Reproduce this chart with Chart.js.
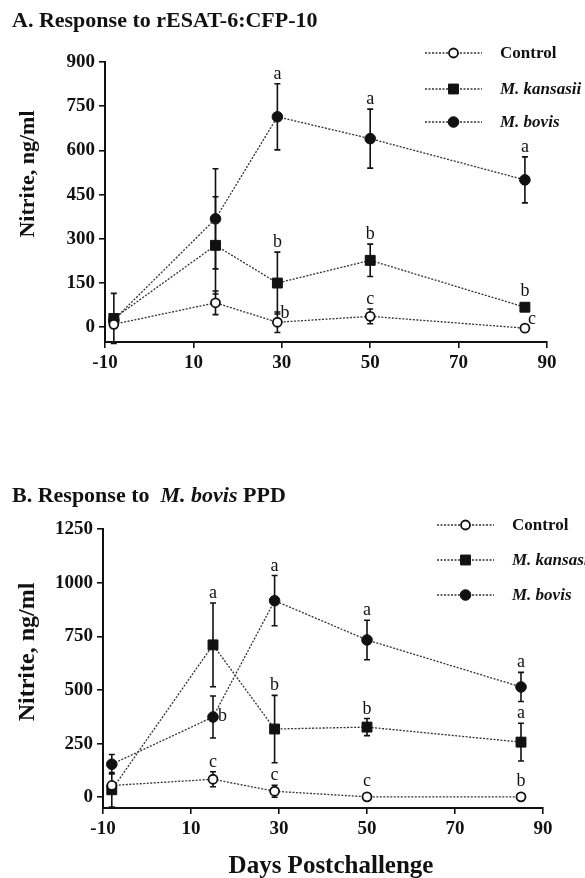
<!DOCTYPE html>
<html>
<head>
<meta charset="utf-8">
<script src="https://cdn.jsdelivr.net/npm/chart.js@4.4.0/dist/chart.umd.min.js"></script>
<style>
  html, body { margin: 0; padding: 0; background: #fff; }
  #wrap { position: relative; width: 585px; height: 878px; }
  canvas { position: absolute; left: 0; }
  #chartA { top: 0; }
  #chartB { top: 440px; }
</style>
</head>
<body>
<div id="wrap">
  <canvas id="chartA" width="585" height="440"></canvas>
  <canvas id="chartB" width="585" height="438"></canvas>
</div>
<script>
// days postchallenge (same for both panels)
const days = [-8, 15, 29, 50, 85];
const xTicks = [-10, 10, 30, 50, 70, 90];

// A. Response to rESAT-6:CFP-10
const yTicksA = [0, 150, 300, 450, 600, 750, 900];
const controlA = [10, 83, 17, 37, -3];
const controlErrA = [12, 40, 35, 25, 4];
const kansasiiA = [30, 278, 150, 227, 68];
const kansasiiErrA = [85, 165, 105, 55, 10];
const bovisA = [25, 368, 714, 640, 500];
const bovisErrA = [20, 170, 112, 100, 78];
const controlLetA = ['', '', 'b', 'c', 'c'];
const kansasiiLetA = ['', '', 'b', 'b', 'b'];
const bovisLetA = ['', '', 'a', 'a', 'a'];

// B. Response to M. bovis PPD
const yTicksB = [0, 250, 500, 750, 1000, 1250];
const controlB = [55, 84, 28, 2, 2];
const controlErrB = [15, 35, 28, 3, 3];
const kansasiiB = [35, 710, 318, 327, 257];
const kansasiiErrB = [80, 195, 157, 40, 88];
const bovisB = [154, 374, 916, 733, 514];
const bovisErrB = [45, 98, 117, 92, 68];
const controlLetB = ['', 'c', 'c', 'c', 'b'];
const kansasiiLetB = ['', 'a', 'b', 'b', 'a'];
const bovisLetB = ['', 'b', 'a', 'a', 'a'];

const SERIF = '"Liberation Serif", "Times New Roman", serif';
const INK = '#111';

function pts(vals) {
    return days.map((d, i) => ({ x: d, y: vals[i] }));
}

function series(label, vals, errs, lets, style, beside) {
    const open = style === 'open';
    return {
        label: label,
        data: pts(vals),
        errors: errs,
        letters: lets,
        beside: beside || {},
        borderColor: '#333',
        borderWidth: 1.3,
        borderDash: [2, 1.5],
        pointStyle: style === 'square' ? 'rect' : 'circle',
        pointRadius: style === 'square' ? 7 : (open ? 4.5 : 5.3),
        pointBorderWidth: open ? 1.8 : 1,
        pointBackgroundColor: open ? '#fff' : INK,
        pointBorderColor: INK,
        fill: false,
        tension: 0
    };
}

// error bars + significance letters
const errorBars = {
    id: 'errorBars',
    beforeDatasetsDraw(chart) {
        const { ctx, scales: { x, y } } = chart;
        ctx.save();
        ctx.strokeStyle = INK;
        ctx.lineWidth = 1.6;
        chart.data.datasets.forEach(ds => {
            ds.data.forEach((p, i) => {
                const e = ds.errors[i];
                if (!e) return;
                const px = x.getPixelForValue(p.x);
                const top = y.getPixelForValue(p.y + e);
                const bot = y.getPixelForValue(p.y - e);
                ctx.beginPath();
                ctx.moveTo(px, top); ctx.lineTo(px, bot);
                ctx.moveTo(px - 3, top); ctx.lineTo(px + 3, top);
                ctx.moveTo(px - 3, bot); ctx.lineTo(px + 3, bot);
                ctx.stroke();
            });
        });
        ctx.restore();
    },
    afterDatasetsDraw(chart) {
        const { ctx, scales: { x, y } } = chart;
        ctx.save();
        ctx.fillStyle = INK;
        ctx.font = '18px ' + SERIF;
        chart.data.datasets.forEach(ds => {
            ds.data.forEach((p, i) => {
                const t = ds.letters[i];
                if (!t) return;
                const px = x.getPixelForValue(p.x);
                const py = y.getPixelForValue(p.y);
                const side = ds.beside[i];
                if (side === 'ur') {
                    ctx.textAlign = 'left';
                    ctx.textBaseline = 'alphabetic';
                    ctx.fillText(t, px + 3, py - 4);
                } else if (side === 'r') {
                    ctx.textAlign = 'left';
                    ctx.textBaseline = 'middle';
                    ctx.fillText(t, px + 5, py - 1);
                } else {
                    const cap = y.getPixelForValue(p.y + (ds.errors[i] || 0));
                    ctx.textAlign = 'center';
                    ctx.textBaseline = 'alphabetic';
                    ctx.fillText(t, px, Math.min(cap, py - 6) - 5);
                }
            });
        });
        ctx.restore();
    }
};

// panel title, axis titles and the legend
const decor = {
    id: 'decor',
    afterDraw(chart, args, opts) {
        const ctx = chart.ctx;
        ctx.save();
        ctx.fillStyle = INK;
        ctx.textBaseline = 'alphabetic';
        ctx.textAlign = 'left';

        // title in pieces (some italic)
        let tx = 12;
        opts.title.forEach(seg => {
            ctx.font = (seg.italic ? 'italic ' : '') + 'bold 22px ' + SERIF;
            ctx.fillText(seg.text, tx, opts.titleY);
            tx += ctx.measureText(seg.text).width;
        });

        // y axis title
        ctx.save();
        ctx.translate(34, opts.yTitleY);
        ctx.rotate(-Math.PI / 2);
        ctx.textAlign = 'center';
        ctx.font = 'bold ' + opts.yTitleSize + 'px ' + SERIF;
        ctx.fillText('Nitrite, ng/ml', 0, 0);
        ctx.restore();

        if (opts.xTitle) {
            ctx.textAlign = 'center';
            ctx.font = 'bold 25px ' + SERIF;
            ctx.fillText(opts.xTitle, 331, opts.xTitleY);
        }

        // legend
        const lg = opts.legend;
        chart.data.datasets.forEach((ds, i) => {
            const ly = lg.y[i];
            ctx.save();
            ctx.strokeStyle = '#333';
            ctx.lineWidth = 1.3;
            ctx.setLineDash([2, 1.5]);
            ctx.beginPath();
            ctx.moveTo(lg.x, ly);
            ctx.lineTo(lg.x + 57, ly);
            ctx.stroke();
            ctx.setLineDash([]);
            ctx.fillStyle = ds.pointBackgroundColor;
            ctx.strokeStyle = ds.pointBorderColor;
            ctx.lineWidth = ds.pointBorderWidth;
            Chart.helpers.drawPoint(ctx, {
                pointStyle: ds.pointStyle,
                radius: ds.pointRadius,
                rotation: 0,
                borderWidth: ds.pointBorderWidth
            }, lg.x + 28.5, ly);
            ctx.restore();
            ctx.textAlign = 'left';
            ctx.textBaseline = 'middle';
            ctx.font = (ds.label.startsWith('M.') ? 'italic ' : '') + 'bold 17px ' + SERIF;
            ctx.fillText(ds.label, lg.x + 75, ly + 1);
        });
        ctx.restore();
    }
};

function axis(min, max, ticks, fitFn) {
    return {
        type: 'linear',
        min: min,
        max: max,
        afterBuildTicks: s => { s.ticks = ticks.map(v => ({ value: v })); },
        afterFit: fitFn,
        grid: { drawOnChartArea: false, drawTicks: true, tickLength: 6, color: INK, lineWidth: 1.6 },
        border: { display: true, color: INK, width: 2 },
        ticks: {
            color: INK,
            font: { family: SERIF, size: 19, weight: 'bold' },
            padding: 4,
            maxRotation: 0,
            autoSkip: false,
            callback: v => String(v)
        }
    };
}

function renderPanel(id, datasets, yMax, yTicks, box, decorOpts) {
    return new Chart(document.getElementById(id), {
        type: 'line',
        data: { datasets: datasets },
        options: {
            responsive: false,
            animation: false,
            devicePixelRatio: 1,
            layout: { padding: { left: 0, right: box.right, top: box.top, bottom: 0 } },
            plugins: {
                legend: { display: false },
                tooltip: { enabled: false },
                decor: decorOpts
            },
            scales: {
                x: axis(-10, 90, xTicks, s => { s.height = box.xH; }),
                y: axis(-50, yMax, yTicks, s => { s.width = box.yW; })
            }
        },
        plugins: [errorBars, decor]
    });
}

renderPanel('chartA', [
    series('Control', controlA, controlErrA, controlLetA, 'open', { 2: 'ur', 4: 'ur' }),
    series('M. kansasii', kansasiiA, kansasiiErrA, kansasiiLetA, 'square'),
    series('M. bovis', bovisA, bovisErrA, bovisLetA, 'filled')
], 900, yTicksA, { right: 38, top: 62, xH: 98, yW: 105 }, {
    title: [{ text: 'A. Response to rESAT-6:CFP-10' }],
    titleY: 27,
    yTitleY: 174,
    yTitleSize: 22,
    legend: { x: 425, y: [53, 89, 122] }
});

renderPanel('chartB', [
    series('Control', controlB, controlErrB, controlLetB, 'open'),
    series('M. kansasii', kansasiiB, kansasiiErrB, kansasiiLetB, 'square'),
    series('M. bovis', bovisB, bovisErrB, bovisLetB, 'filled', { 1: 'r' })
], 1250, yTicksB, { right: 42, top: 89, xH: 70, yW: 103 }, {
    title: [{ text: 'B. Response to  ' }, { text: 'M. bovis', italic: true }, { text: ' PPD' }],
    titleY: 62,
    yTitleY: 212,
    yTitleSize: 24,
    xTitle: 'Days Postchallenge',
    xTitleY: 433,
    legend: { x: 437, y: [85, 120, 155] }
});
</script>
</body>
</html>
